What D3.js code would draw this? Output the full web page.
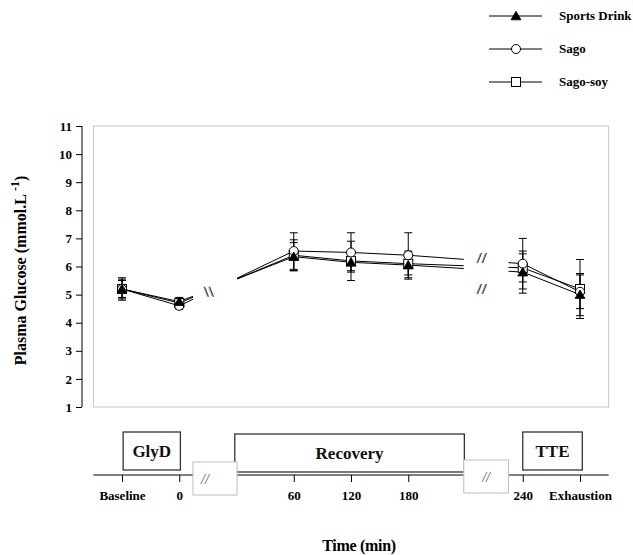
<!DOCTYPE html>
<html>
<head>
<meta charset="utf-8">
<script src="https://cdn.jsdelivr.net/npm/d3@7"></script>
<style>
  html, body { margin: 0; padding: 0; background: #fff; }
  svg { display: block; }
  text { font-family: "Liberation Serif", "Times New Roman", serif; font-weight: bold; }
</style>
</head>
<body>
<svg id="chart" width="633" height="555"></svg>
<script>
// Sampling times (labels) and their slot on the broken time axis
const timeLabels = ["Baseline", "0", "60", "120", "180", "240", "Exhaustion"];
const timeSlots  = [0, 1, 3, 4, 5, 7, 8];

// Plasma glucose, mean (mmol.L-1)
const sportsDrink = [5.2, 4.75, 6.35, 6.15, 6.05, 5.8, 5.0];
const sago        = [5.2, 4.6, 6.55, 6.5, 6.4, 6.1, 5.1];
const sagoSoy     = [5.2, 4.7, 6.4, 6.2, 6.1, 5.95, 5.2];

// Standard deviations
const sdSportsDrink = [0.35, 0.15, 0.5, 0.3, 0.5, 0.75, 0.75];
const sdSago        = [0.4, 0.12, 0.65, 0.7, 0.8, 0.9, 0.6];
const sdSagoSoy     = [0.3, 0.15, 0.55, 0.7, 0.4, 0.5, 1.05];

// y-axis ticks
const yTicks = [1, 2, 3, 4, 5, 6, 7, 8, 9, 10, 11];

// Phases along the time line (in slot units)
const phaseNames = ["GlyD", "Recovery", "TTE"];
const phaseStart = [0.02, 1.97, 7.0];
const phaseEnd   = [1.02, 5.98, 8.04];

// Axis breaks (in slot units)
const breakStart = [1.24, 5.97];
const breakEnd   = [2.01, 6.75];

const series = [
  { name: "Sago-soy",     values: sagoSoy,     sd: sdSagoSoy,     marker: "square" },
  { name: "Sago",         values: sago,        sd: sdSago,        marker: "circle" },
  { name: "Sports Drink", values: sportsDrink, sd: sdSportsDrink, marker: "triangle" }
];
const legendOrder = ["Sports Drink", "Sago", "Sago-soy"];

const svg = d3.select("#chart");

const x = d3.scaleLinear().domain([0, 8]).range([122, 580]);
const y = d3.scaleLinear().domain([1, 11]).range([407, 126]);
const frameX0 = x(-0.5), frameX1 = x(8.5);

// plot frame
svg.append("rect")
  .attr("x", frameX0).attr("y", y(11))
  .attr("width", frameX1 - frameX0).attr("height", y(1) - y(11))
  .attr("fill", "none").attr("stroke", "#c8c8c8").attr("stroke-width", 1);

// y axis
const yAxis = svg.append("g")
  .attr("transform", "translate(82,0)")
  .call(d3.axisLeft(y).tickValues(yTicks).tickSize(6).tickPadding(4).tickFormat(d3.format("d")));
yAxis.select(".domain").attr("stroke", "#000").attr("d", `M0,${y(11)}V${y(1)}`);
yAxis.selectAll("text").attr("font-size", 13).attr("fill", "#000")
  .style("font-family", "'Liberation Serif', serif").style("font-weight", "bold");

// y title
svg.append("text")
  .attr("transform", `translate(26,${(y(1) + y(11)) / 2 + 4}) rotate(-90)`)
  .attr("text-anchor", "middle")
  .attr("font-size", 16)
  .html('Plasma Glucose (mmol.L <tspan dy="-7" font-size="12">-1</tspan><tspan dy="7">)</tspan>');

// clip path leaving out the axis breaks
const segs = [];
let s0 = -0.5;
breakStart.forEach((b, i) => { segs.push([s0, b]); s0 = breakEnd[i]; });
segs.push([s0, 8.5]);
const clip = svg.append("clipPath").attr("id", "breakClip");
segs.forEach(([a, b]) => {
  clip.append("rect").attr("x", x(a)).attr("y", 0).attr("width", x(b) - x(a)).attr("height", 555);
});

const plot = svg.append("g");

// lines
const line = d3.line().x((d, i) => x(timeSlots[i])).y(d => y(d));
series.forEach(s => {
  plot.append("path")
    .datum(s.values)
    .attr("d", line)
    .attr("fill", "none").attr("stroke", "#000").attr("stroke-width", 1)
    .attr("clip-path", "url(#breakClip)");
});

// error bars
series.forEach(s => {
  s.values.forEach((v, i) => {
    const cx = x(timeSlots[i]);
    const lo = y(v - s.sd[i]), hi = y(v + s.sd[i]);
    plot.append("line").attr("x1", cx).attr("x2", cx).attr("y1", lo).attr("y2", hi)
      .attr("stroke", "#000").attr("stroke-width", 1);
    [lo, hi].forEach(yy => {
      plot.append("line").attr("x1", cx - 4).attr("x2", cx + 4).attr("y1", yy).attr("y2", yy)
        .attr("stroke", "#000").attr("stroke-width", 1);
    });
  });
});

function drawMarker(g, type, cx, cy) {
  if (type === "triangle") {
    g.append("path")
      .attr("d", d3.symbol().type(d3.symbolTriangle).size(42)())
      .attr("transform", `translate(${cx},${cy + 1})`)
      .attr("fill", "#000").attr("stroke", "#000").attr("stroke-width", 0.8);
  } else if (type === "circle") {
    g.append("circle").attr("cx", cx).attr("cy", cy).attr("r", 4.5)
      .attr("fill", "#fff").attr("stroke", "#000").attr("stroke-width", 1);
  } else {
    g.append("rect").attr("x", cx - 4.5).attr("y", cy - 4.5).attr("width", 9).attr("height", 9)
      .attr("fill", "#fff").attr("stroke", "#000").attr("stroke-width", 1);
  }
}

series.forEach(s => {
  s.values.forEach((v, i) => drawMarker(plot, s.marker, x(timeSlots[i]), y(v)));
});

// break marks: dir = 1 draws "//", dir = -1 draws "\\"
function slashPair(g, cx, cy, dir) {
  [-2.5, 2.5].forEach(dx => {
    const x0 = cx + dx;
    g.append("line")
      .attr("x1", x0 - 2 * dir - 1).attr("y1", cy + 5)
      .attr("x2", x0 + 2 * dir - 1).attr("y2", cy - 5)
      .attr("stroke", "#e0a040").attr("stroke-width", 1);
    g.append("line")
      .attr("x1", x0 - 2 * dir).attr("y1", cy + 5)
      .attr("x2", x0 + 2 * dir).attr("y2", cy - 5)
      .attr("stroke", "#2f3f8f").attr("stroke-width", 1.1);
  });
}
slashPair(svg, 209, y(5.1), -1);
slashPair(svg, 482, y(6.3), 1);
slashPair(svg, 482, y(5.2), 1);

// time line axis
const axisY = 475;
const xAxis = svg.append("g")
  .attr("transform", `translate(0,${axisY})`)
  .call(d3.axisBottom(x).tickValues(timeSlots).tickSize(7).tickPadding(9)
    .tickFormat((d, i) => timeLabels[i]));
xAxis.select(".domain").attr("stroke", "#000").attr("d", `M${frameX0},0H${frameX1}`);
xAxis.selectAll("text").attr("font-size", 13).attr("fill", "#000")
  .style("font-family", "'Liberation Serif', serif").style("font-weight", "bold");

// phase boxes
phaseNames.forEach((p, i) => {
  const x0 = x(phaseStart[i]), x1 = x(phaseEnd[i]);
  const top = i === 1 ? 434 : 432;
  const bottom = i === 1 ? 472 : 470;
  svg.append("rect").attr("x", x0).attr("y", top).attr("width", x1 - x0).attr("height", bottom - top)
    .attr("fill", "#fff").attr("stroke", "#333").attr("stroke-width", 1.3);
  svg.append("text").attr("x", (x0 + x1) / 2).attr("y", (top + bottom) / 2 + 6)
    .attr("text-anchor", "middle").attr("font-size", 17).attr("fill", "#111").text(p);
});

// break boxes on the time line
breakStart.forEach((b, i) => {
  const x0 = x(b), x1 = x(breakEnd[i]);
  const top = i === 0 ? 462 : 460;
  svg.append("rect").attr("x", x0).attr("y", top).attr("width", x1 - x0).attr("height", 33)
    .attr("fill", "#fff").attr("stroke", "#bdbdbd").attr("stroke-width", 1);
  svg.append("text").attr("x", i === 0 ? x0 + 12 : (x0 + x1) / 2)
    .attr("y", top + 22).attr("text-anchor", "middle")
    .attr("font-size", 14).attr("font-style", "italic")
    .style("font-weight", "normal").attr("fill", "#2f4fa0").text("//");
});

// x title
svg.append("text").attr("x", 359).attr("y", 551).attr("text-anchor", "middle")
  .attr("font-size", 16).attr("letter-spacing", -0.3).text("Time (min)");

// legend
legendOrder.forEach((name, i) => {
  const s = series.find(d => d.name === name);
  const ly = [16, 49, 82][i];
  const g = svg.append("g");
  g.append("line").attr("x1", 489).attr("x2", 542).attr("y1", ly).attr("y2", ly)
    .attr("stroke", "#000").attr("stroke-width", 1);
  drawMarker(g, s.marker, 516, ly);
  g.append("text").attr("x", 559).attr("y", ly + 4).attr("font-size", 13).text(name);
});
</script>
</body>
</html>
